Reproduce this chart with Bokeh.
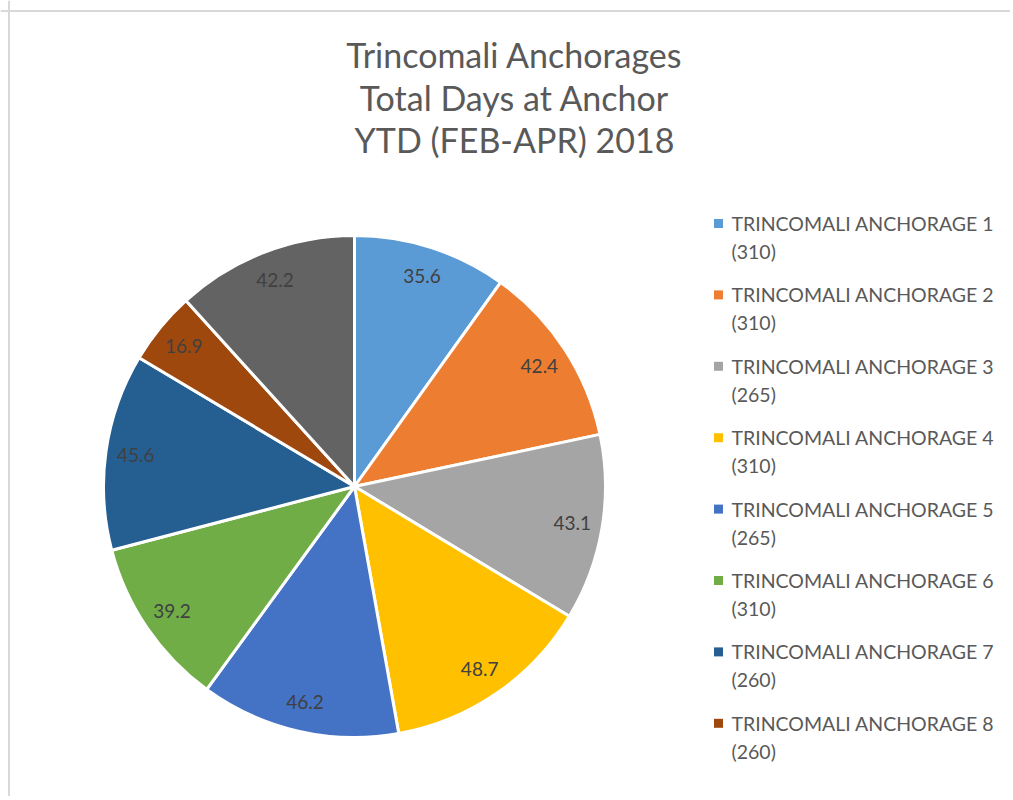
import numpy as np
from bokeh.plotting import figure
from bokeh.models import Range1d, Span, ColumnDataSource
from bokeh.core.properties import value
from bokeh.embed import file_html
from bokeh.resources import INLINE

# ---------------- data ----------------
title_lines = ["Trincomali Anchorages", "Total Days at Anchor", "YTD (FEB-APR) 2018"]
slice_values = [35.6, 42.4, 43.1, 48.7, 46.2, 39.2, 45.6, 16.9, 42.2]
slice_colors = ["#5B9BD5", "#ED7D31", "#A5A5A5", "#FFC000", "#4472C4",
                "#70AD47", "#255E91", "#9E480E", "#636363"]
legend_names = ["TRINCOMALI ANCHORAGE 1", "TRINCOMALI ANCHORAGE 2",
                "TRINCOMALI ANCHORAGE 3", "TRINCOMALI ANCHORAGE 4",
                "TRINCOMALI ANCHORAGE 5", "TRINCOMALI ANCHORAGE 6",
                "TRINCOMALI ANCHORAGE 7", "TRINCOMALI ANCHORAGE 8"]
legend_capacity = ["(310)", "(310)", "(265)", "(310)", "(265)", "(310)", "(260)", "(260)"]

# ---------------- layout ----------------
W, H = 1010, 796
FONT = "Lato"
cx, cy, r = 354, H - 486, 251

p = figure(width=W, height=H, output_backend="svg", toolbar_location=None,
           x_range=Range1d(0, W), y_range=Range1d(0, H), min_border=0,
           background_fill_color="white", border_fill_color="white")
p.axis.visible = False
p.grid.visible = False
p.outline_line_color = None

# chart frame (left and top edges visible)
p.add_layout(Span(location=8.5, dimension="height", line_color="#D9D9D9", line_width=2))
p.add_layout(Span(location=H - 10.5, dimension="width", line_color="#D9D9D9", line_width=2))

# pie
vals = np.array(slice_values)
total = vals.sum()
cum = np.concatenate([[0], np.cumsum(vals)])
start = np.pi / 2 - cum[:-1] / total * 2 * np.pi
end = np.pi / 2 - cum[1:] / total * 2 * np.pi
mid = (start + end) / 2
src = ColumnDataSource(dict(start=start, end=end, color=slice_colors,
                            lx=cx + 0.88 * r * np.cos(mid), ly=cy + 0.88 * r * np.sin(mid),
                            label=[f"{v:.1f}" for v in slice_values]))
p.wedge(x=cx, y=cy, radius=r, start_angle="start", end_angle="end", direction="clock",
        fill_color="color", line_color="white", line_width=3, source=src)
p.text(x="lx", y="ly", text="label", source=src, text_font=value(FONT),
       text_font_size="19px", text_color="#404040", text_align="center",
       text_baseline="middle")

# title
p.text(x=[514] * 3, y=[H - 54, H - 96.5, H - 139], text=title_lines, text_font=value(FONT),
       text_font_size="34px", text_color="#595959", text_align="center",
       text_baseline="alphabetic")

# legend
n = len(legend_names)
ly0 = H - 223
step = 71.4
leg_y = [ly0 - i * step for i in range(n)]
p.scatter(x=[718] * n, y=leg_y, marker="square", size=9, fill_color=slice_colors[:n],
          line_color=None)
p.text(x=[731] * n, y=leg_y, text=legend_names, text_font=value(FONT),
       text_font_size="19.5px", text_color="#595959", text_baseline="middle")
p.text(x=[731] * n, y=[v - 28 for v in leg_y], text=legend_capacity, text_font=value(FONT),
       text_font_size="19.5px", text_color="#595959", text_baseline="middle")

open("out.html", "w").write(file_html(p, INLINE))
